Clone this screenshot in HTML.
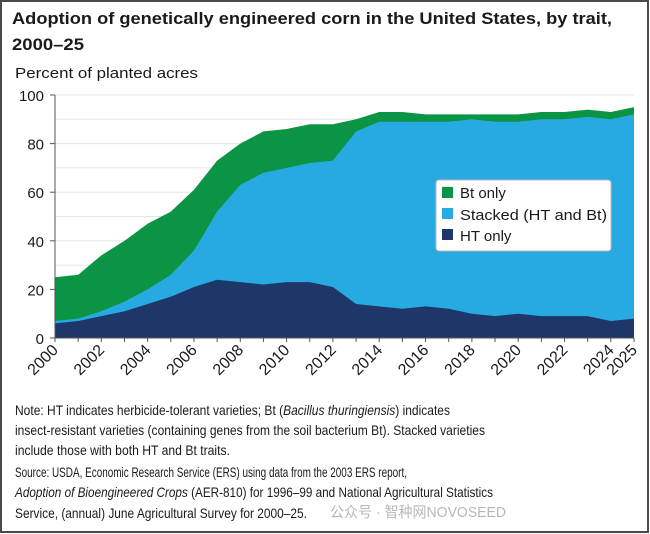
<!DOCTYPE html>
<html><head><style>
html,body{margin:0;padding:0;background:#fff}
svg{display:block}
text{font-family:"Liberation Sans","Noto Sans CJK SC",sans-serif;fill:#1a1a1a}
</style></head><body>
<svg id="s" width="650" height="534" viewBox="0 0 650 534" xmlns="http://www.w3.org/2000/svg">
<rect x="1" y="1" width="647" height="531" fill="#fff" stroke="#4a4a4a" stroke-width="2"/>
<text x="12" y="24" font-size="17" font-weight="bold" textLength="600" lengthAdjust="spacingAndGlyphs">Adoption of genetically engineered corn in the United States, by trait,</text>
<text x="12" y="50" font-size="17" font-weight="bold" textLength="72" lengthAdjust="spacingAndGlyphs">2000–25</text>
<text x="15" y="78" font-size="15" textLength="183" lengthAdjust="spacingAndGlyphs">Percent of planted acres</text>
<g id="grid"></g>
<g id="areas"></g>
<g id="axes"></g>
<rect x="436" y="180" width="175" height="71" rx="3" fill="#fff" stroke="#bbb"/>
<rect x="442" y="187" width="11" height="11" fill="#0b9444"/>
<rect x="442" y="208" width="11" height="11" fill="#27aae1"/>
<rect x="442" y="229" width="11" height="11" fill="#1e3668"/>
<text x="460" y="198" font-size="15">Bt only</text>
<text x="460" y="220" font-size="15" textLength="147" lengthAdjust="spacingAndGlyphs">Stacked (HT and Bt)</text>
<text x="460" y="241" font-size="15">HT only</text>
<g font-size="14">
<text x="15" y="415" textLength="435" lengthAdjust="spacingAndGlyphs">Note: HT indicates herbicide-tolerant varieties; Bt (<tspan font-style="italic">Bacillus thuringiensis</tspan>) indicates</text>
<text x="15" y="435" textLength="470" lengthAdjust="spacingAndGlyphs">insect-resistant varieties (containing genes from the soil bacterium Bt). Stacked varieties</text>
<text x="15" y="455" textLength="215" lengthAdjust="spacingAndGlyphs">include those with both HT and Bt traits.</text>
<text x="15" y="477" textLength="392" lengthAdjust="spacingAndGlyphs">Source: USDA, Economic Research Service (ERS) using data from the 2003 ERS report,</text>
<text x="15" y="497" textLength="478" lengthAdjust="spacingAndGlyphs"><tspan font-style="italic">Adoption of Bioengineered Crops</tspan> (AER-810) for 1996–99 and National Agricultural Statistics</text>
<text x="15" y="518" textLength="292" lengthAdjust="spacingAndGlyphs">Service, (annual) June Agricultural Survey for 2000–25.</text>
<text x="330" y="517" font-size="15" style="fill:#b8b8b8" textLength="176" lengthAdjust="spacingAndGlyphs">公众号 · 智种网NOVOSEED</text>
</g>
</svg>
<script>
var ns="http://www.w3.org/2000/svg";
function X(y){return 55+(y-2000)*(579/25);}
function Y(v){return 338-v*2.43;}
var ht=[6,7,9,11,14,17,21,24,23,22,23,23,21,14,13,12,13,12,10,9,10,9,9,9,7,8];
var st=[7,8,11,15,20,26,36,52,63,68,70,72,73,85,89,89,89,89,90,89,89,90,90,91,90,92];
var tot=[25,26,34,40,47,52,61,73,80,85,86,88,88,90,93,93,92,92,92,92,92,93,93,94,93,95];
function el(t,a,p){var e=document.createElementNS(ns,t);for(var k in a)e.setAttribute(k,a[k]);document.getElementById(p).appendChild(e);return e;}
for(var v=10;v<=100;v+=10){el('line',{x1:55,x2:634,y1:Y(v),y2:Y(v),stroke:'#e6e6e6','stroke-width':1},'grid');}
function area(arr,col){var d='M'+X(2000)+' '+Y(0);for(var i=0;i<26;i++)d+=' L'+X(2000+i).toFixed(1)+' '+Y(arr[i]).toFixed(1);d+=' L'+X(2025)+' '+Y(0)+'Z';el('path',{d:d,fill:col},'areas');}
area(tot,'#0b9444');area(st,'#27aae1');area(ht,'#1e3668');
el('line',{x1:55,x2:55,y1:95,y2:338,stroke:'#555'},'axes');
el('line',{x1:55,x2:634,y1:338,y2:338,stroke:'#555'},'axes');
for(var v=0;v<=100;v+=20){var t=el('text',{x:44,y:Y(v)+6,'font-size':15,'text-anchor':'end'},'axes');t.textContent=v;el('line',{x1:50,x2:55,y1:Y(v),y2:Y(v),stroke:'#555'},'axes');}
for(var y=2000;y<=2025;y++){el('line',{x1:X(y),x2:X(y),y1:338,y2:342,stroke:'#555'},'axes');}
var yrs=[2000,2002,2004,2006,2008,2010,2012,2014,2016,2018,2020,2022,2024,2025];
yrs.forEach(function(y){var x=X(y)+4,yy=351;var t=el('text',{x:x,y:yy,'font-size':16,'text-anchor':'end',transform:'rotate(-45 '+x+' '+yy+')'},'axes');t.textContent=y;});
</script>
</body></html>
